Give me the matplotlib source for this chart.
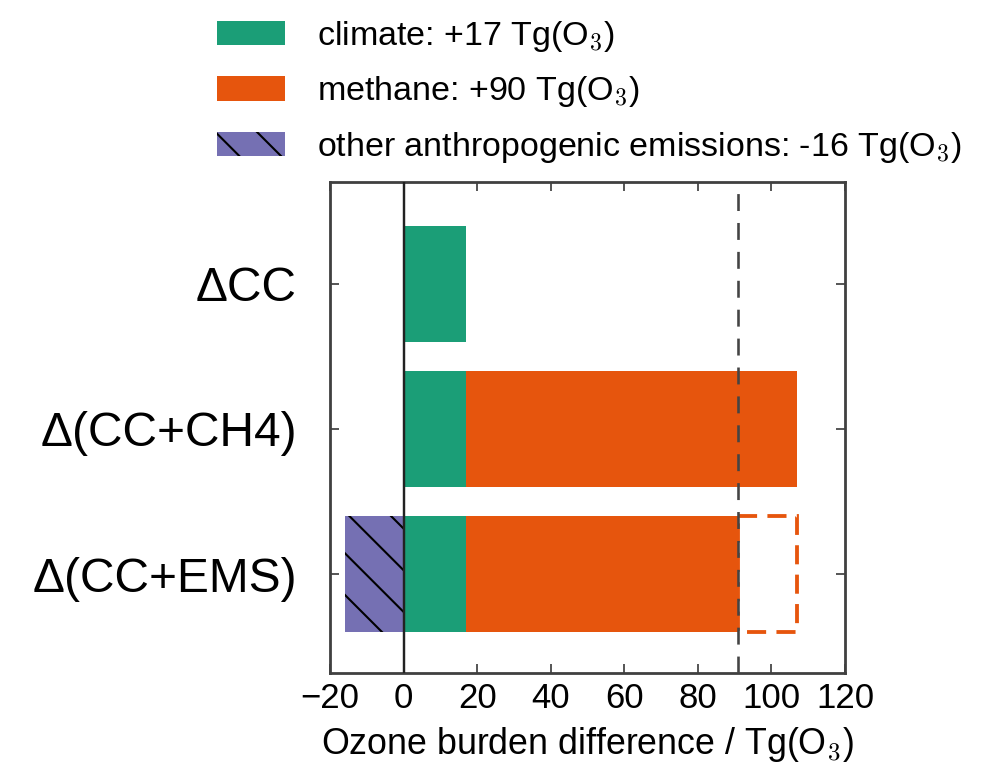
import numpy as np
import matplotlib
matplotlib.use("Agg")
import matplotlib.pyplot as plt

# data
cases = ['\u0394CC', '\u0394(CC+CH4)', '\u0394(CC+EMS)']
climate = np.array([17, 17, 17])
methane = np.array([0, 90, 90])
other = np.array([0, 0, -16])
legend_labels = ['climate: +17 Tg(O$_3$)',
                 'methane: +90 Tg(O$_3$)',
                 'other anthropogenic emissions: -16 Tg(O$_3$)']

green = '#1b9e77'
orange = '#e6550d'
purple = '#7570b3'
grey = '#404040'

plt.rcParams['font.family'] = ['Liberation Sans', 'DejaVu Sans']
plt.rcParams['mathtext.fontset'] = 'cm'
plt.rcParams['hatch.linewidth'] = 0.6
plt.rcParams['hatch.color'] = 'k'

fig = plt.figure(figsize=(992 / 250, 763 / 250), dpi=250)
ax = fig.add_axes([330 / 992, 1 - 673 / 763, 515 / 992, 491 / 763])

y = np.arange(len(cases))
h = 0.8

# stacked bars
b1 = ax.barh(y, climate, height=h, color=green, linewidth=0)
filled_meth = np.where(other < 0, methane + other, methane)
b2 = ax.barh(y, filled_meth, left=climate, height=h, color=orange, linewidth=0)
b3 = ax.barh(y, other, height=h, color=purple, linewidth=0, hatch='\\\\')
# the part of methane cancelled by other emissions
neg = other < 0
ax.barh(y[neg], -other[neg], left=(climate + filled_meth)[neg], height=h,
        fill=False, edgecolor=orange, linewidth=1.1, linestyle=(0, (5, 2.7)))

net = climate + methane + other
ax.axvline(0, color='#222222', lw=0.7, zorder=3)
ax.axvline(net[-1], color='#444444', lw=0.75, ls=(0, (6.5, 4.6)), zorder=3)

ax.set_xlim(-20, 120)
ax.set_ylim(2.68, -0.7)
ax.set_xticks(np.arange(-20, 121, 20))
ax.set_yticks(y)
ax.set_yticklabels(cases)

for s in ax.spines.values():
    s.set_color(grey)
    s.set_linewidth(0.8)
ax.tick_params(direction='in', top=True, right=True, length=2.7, width=0.5,
               color=grey, labelcolor='k')
ax.tick_params(axis='x', labelsize=10, pad=2.5)
ax.tick_params(axis='y', labelsize=13.8, pad=9.5)

ax.set_xlabel('Ozone burden difference / Tg(O$_3$)', fontsize=10.3, labelpad=3)

fig.legend([b1, b2, b3], legend_labels, loc='upper left',
           bbox_to_anchor=(217 / 992, 1 - 19 / 763), frameon=False,
           fontsize=9.8, borderpad=0, borderaxespad=0, handlelength=2.0,
           handleheight=0.71, handletextpad=0.94, labelspacing=0.6)

fig.savefig('out.png', dpi=250)
